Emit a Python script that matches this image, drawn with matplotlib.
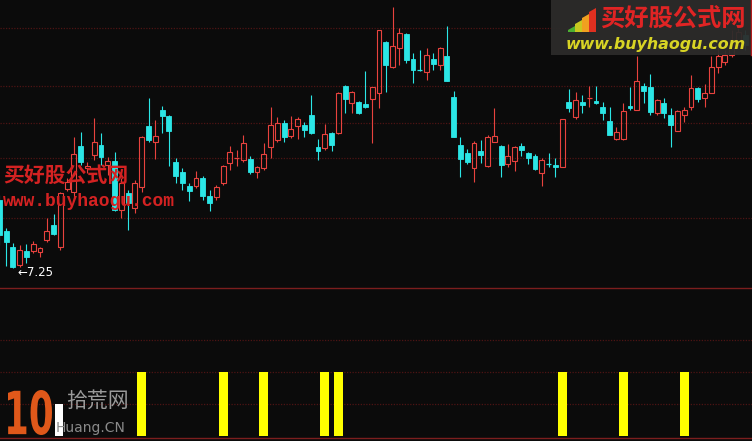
import matplotlib
matplotlib.use('Agg')
import matplotlib.pyplot as plt
from matplotlib.patches import Rectangle, Polygon, PathPatch
from matplotlib.lines import Line2D
from matplotlib.textpath import TextPath
from matplotlib.font_manager import FontProperties
from matplotlib.transforms import Affine2D

# daily K-line prices (open, close, high, low)
opens = [7.93, 7.62, 7.46, 7.28, 7.42, 7.42, 7.41, 7.53, 7.68, 7.46,
         8.04, 8.01, 8.47, 8.25, 8.38, 8.48, 8.28, 8.32, 7.83, 8.00,
         7.85, 8.06, 8.67, 8.51, 8.83, 8.77, 8.31, 8.21, 8.07, 8.07,
         8.15, 7.97, 7.96, 8.10, 8.30, 8.35, 8.33, 8.34, 8.21, 8.25,
         8.46, 8.53, 8.70, 8.57, 8.67, 8.68, 8.78, 8.46, 8.45, 8.60,
         8.60, 9.07, 8.90, 8.91, 8.89, 8.94, 9.00, 9.51, 9.26, 9.45,
         9.59, 9.34, 9.24, 9.21, 9.34, 9.28, 9.37, 8.96, 8.48, 8.40,
         8.25, 8.42, 8.27, 8.51, 8.47, 8.29, 8.32, 8.47, 8.40, 8.37,
         8.20, 8.30, 8.28, 8.26, 8.91, 8.76, 8.91, 8.95, 8.92, 8.86,
         8.72, 8.54, 8.54, 8.87, 8.83, 9.07, 9.06, 8.80, 8.90, 8.78,
         8.62, 8.78, 8.86, 9.05, 8.95, 9.00, 9.26, 9.31, 9.38, 9.48,
         9.58]
closes = [7.58, 7.51, 7.26, 7.43, 7.36, 7.49, 7.45, 7.62, 7.59, 8.00,
          8.11, 8.39, 8.31, 8.27, 8.51, 8.36, 8.32, 7.83, 8.10, 7.90,
          8.10, 8.56, 8.53, 8.57, 8.77, 8.62, 8.17, 8.10, 8.02, 8.15,
          7.97, 7.90, 8.06, 8.27, 8.41, 8.36, 8.50, 8.21, 8.26, 8.39,
          8.68, 8.70, 8.56, 8.64, 8.74, 8.63, 8.60, 8.42, 8.59, 8.48,
          9.00, 8.94, 9.01, 8.80, 8.86, 9.06, 9.63, 9.28, 9.47, 9.60,
          9.33, 9.23, 9.23, 9.38, 9.29, 9.45, 9.12, 8.56, 8.34, 8.31,
          8.50, 8.38, 8.56, 8.57, 8.28, 8.37, 8.46, 8.43, 8.35, 8.24,
          8.33, 8.29, 8.26, 8.74, 8.85, 8.93, 8.88, 8.96, 8.90, 8.80,
          8.58, 8.61, 8.82, 8.85, 9.12, 9.02, 8.81, 8.93, 8.80, 8.68,
          8.82, 8.83, 9.05, 8.94, 9.00, 9.26, 9.37, 9.38, 9.53, 9.61,
          9.48]
highs = [7.98, 7.65, 7.50, 7.48, 7.49, 7.52, 7.46, 7.75, 7.79, 8.01,
         8.15, 8.56, 8.61, 8.31, 8.75, 8.60, 8.36, 8.41, 8.15, 8.03,
         8.13, 8.57, 8.95, 8.73, 8.87, 8.78, 8.35, 8.25, 8.10, 8.22,
         8.17, 8.03, 8.08, 8.28, 8.47, 8.43, 8.58, 8.37, 8.27, 8.50,
         8.86, 8.76, 8.73, 8.77, 8.76, 8.71, 8.98, 8.54, 8.69, 8.61,
         9.01, 9.08, 9.02, 8.92, 9.22, 9.06, 9.63, 9.52, 9.86, 9.65,
         9.60, 9.40, 9.43, 9.45, 9.40, 9.46, 9.67, 9.02, 8.56, 8.44,
         8.52, 8.53, 8.58, 8.85, 8.48, 8.49, 8.47, 8.50, 8.41, 8.39,
         8.35, 8.40, 8.35, 8.74, 9.04, 9.01, 8.98, 9.07, 9.07, 8.91,
         8.86, 8.66, 8.90, 9.06, 9.37, 9.10, 9.19, 8.94, 8.95, 8.85,
         8.83, 8.86, 9.18, 9.06, 9.09, 9.37, 9.48, 9.43, 9.63, 9.65,
         9.63]
lows = [7.48, 7.27, 7.25, 7.26, 7.30, 7.40, 7.36, 7.51, 7.58, 7.43,
        8.02, 7.96, 8.28, 8.20, 8.33, 8.28, 8.18, 7.82, 7.75, 7.63,
        7.80, 8.01, 8.51, 8.34, 8.60, 8.27, 8.10, 8.03, 7.92, 8.05,
        7.93, 7.82, 7.93, 8.08, 8.23, 8.27, 8.31, 8.19, 8.15, 8.23,
        8.35, 8.51, 8.51, 8.55, 8.54, 8.56, 8.59, 8.33, 8.43, 8.42,
        8.59, 8.80, 8.80, 8.79, 8.85, 8.50, 8.85, 9.01, 9.25, 9.28,
        9.30, 9.10, 9.22, 9.13, 9.23, 9.23, 9.12, 8.56, 8.16, 8.29,
        8.11, 8.30, 8.26, 8.51, 8.16, 8.26, 8.22, 8.37, 8.29, 8.23,
        8.07, 8.26, 8.16, 8.26, 8.81, 8.74, 8.80, 8.86, 8.89, 8.73,
        8.58, 8.53, 8.53, 8.83, 8.83, 8.90, 8.78, 8.78, 8.75, 8.46,
        8.62, 8.71, 8.83, 8.91, 8.86, 9.00, 9.20, 9.28, 9.36, 9.45,
        9.43]

# signal bars in the lower panel
signal_days = [21, 33, 39, 48, 50, 83, 92, 101]
signal_vals = [1, 1, 1, 1, 1, 1, 1, 1]

grid_prices = [9.65, 9.07, 8.70, 8.35, 7.75]
grid_sub = [0.5, 1.0, 1.5]
low_label = '←7.25'

BG = '#0b0b0b'
UP = '#e8423e'
DOWN = '#2be6e6'
GRID = '#4e1414'
SEP = '#7c1e1e'
CJK = ['Noto Sans CJK SC', 'DejaVu Sans']

W, H = 752, 441
fig = plt.figure(figsize=(W / 100, H / 100), dpi=100, facecolor=BG)


def px_axes(y0, y1):
    a = fig.add_axes([0, 1 - y1 / H, 1, (y1 - y0) / H])
    a.set_axis_off()
    return a


def fx(x):
    return x / W


def fy(y):
    return 1 - y / H


ax = px_axes(0, 288)
ax2 = px_axes(288, 438)

for p in grid_prices:
    ax.axhline(p, color=GRID, lw=0.9, ls=(0, (1, 1.2)), zorder=0)
for v in grid_sub:
    ax2.axhline(v, color=GRID, lw=0.9, ls=(0, (1, 1.2)), zorder=0)

bw = 0.72
for i, (o, c, h, l) in enumerate(zip(opens, closes, highs, lows)):
    top, bot = max(o, c), min(o, c)
    if c > o:
        ax.vlines(i, top, h, color=UP, lw=0.8)
        ax.vlines(i, l, bot, color=UP, lw=0.8)
        if top - bot < 0.015:
            ax.hlines((top + bot) / 2, i - bw / 2, i + bw / 2, color=UP, lw=0.9)
        else:
            ax.add_patch(Rectangle((i - bw / 2, bot), bw, top - bot,
                                   facecolor='none', edgecolor=UP, lw=0.8))
    else:
        ax.vlines(i, l, h, color=DOWN, lw=0.8)
        if top - bot < 0.015:
            ax.hlines((top + bot) / 2, i - bw / 2, i + bw / 2, color=DOWN, lw=0.9)
        else:
            ax.add_patch(Rectangle((i - bw / 2, bot), bw, top - bot,
                                   facecolor=DOWN, edgecolor=DOWN, lw=0.6))

ax.set_xlim(0.1, 111.0)
ax.set_ylim(7.05, 9.93)

ax2.bar(signal_days, signal_vals, width=1.33, color='#ffff00', zorder=2)
ax2.set_xlim(0.1, 111.0)
ax2.set_ylim(-2 / 64, 148 / 64)

# panel separators
for y in (288, 438):
    fig.add_artist(Line2D([0, 1], [fy(y), fy(y)], transform=fig.transFigure,
                          color=SEP, lw=1))

# lowest price marker
fig.text(fx(17), fy(272), low_label, color='white', fontsize=8.5,
         va='center', ha='left', family='DejaVu Sans')

# watermark on the left
fig.text(fx(3), fy(175), '买好股公式网', color='#d42222', fontsize=15,
         fontweight='bold', family=CJK, va='center', ha='left')
fig.text(fx(3), fy(202), 'www.buyhaogu.com', color='#d42222', fontsize=13,
         fontweight='bold', family='Liberation Mono', va='center', ha='left')

# top-right logo box
fig.add_artist(Rectangle((fx(551), fy(55)), fx(201), 55 / H, transform=fig.transFigure,
                         facecolor='#2c2b2a', edgecolor='none', alpha=0.95))
fig.add_artist(Line2D([fx(750.5), fx(750.5)], [fy(0), fy(55)], transform=fig.transFigure,
                      color='#b01c1c', lw=1))
icon_cols = ['#4caf32', '#c8c820', '#f0a020', '#e03020']
for k, col in enumerate(icon_cols):
    x0 = 568 + k * 7
    fig.add_artist(Polygon([(fx(x0), fy(32)), (fx(x0 + 7), fy(32)),
                            (fx(x0 + 7), fy(26 - k * 6)), (fx(x0), fy(30 - k * 6))],
                           closed=True, transform=fig.transFigure,
                           facecolor=col, edgecolor='none'))
fig.text(fx(600), fy(19), '买好股公式网', color='#e02424', fontsize=17.5,
         fontweight='bold', family=CJK, va='center', ha='left', style='italic')
fig.text(fx(566), fy(44), 'www.buyhaogu.com', color='#d8d424', fontsize=11.4,
         fontweight='bold', style='italic', family='DejaVu Sans',
         va='center', ha='left')

# bottom-left logo: a condensed "10", squeezed to its box (x 8-52, y 390-435)
tp = TextPath((0, 0), '10', size=1, prop=FontProperties(family='DejaVu Sans', weight='bold'))
ext = tp.get_extents()
sx = 44 / ext.width
sy = 45 / ext.height
tr = Affine2D().translate(-ext.x0, -ext.y0).scale(sx, sy).translate(8, H - 435)
fig.add_artist(PathPatch(tp, transform=tr, facecolor='#e0581a', edgecolor='none'))
fig.add_artist(Rectangle((fx(55), fy(436)), fx(8), 32 / H, transform=fig.transFigure,
                         facecolor='white', edgecolor='none'))
fig.text(fx(66), fy(401), '拾荒网', color='#9a9a9a', fontsize=15,
         family=CJK, va='center', ha='left')
fig.text(fx(56), fy(428), 'Huang.CN', color='#8a8a8a', fontsize=10,
         family='DejaVu Sans', va='center', ha='left')

fig.savefig('out.png', dpi=100, facecolor=BG)
